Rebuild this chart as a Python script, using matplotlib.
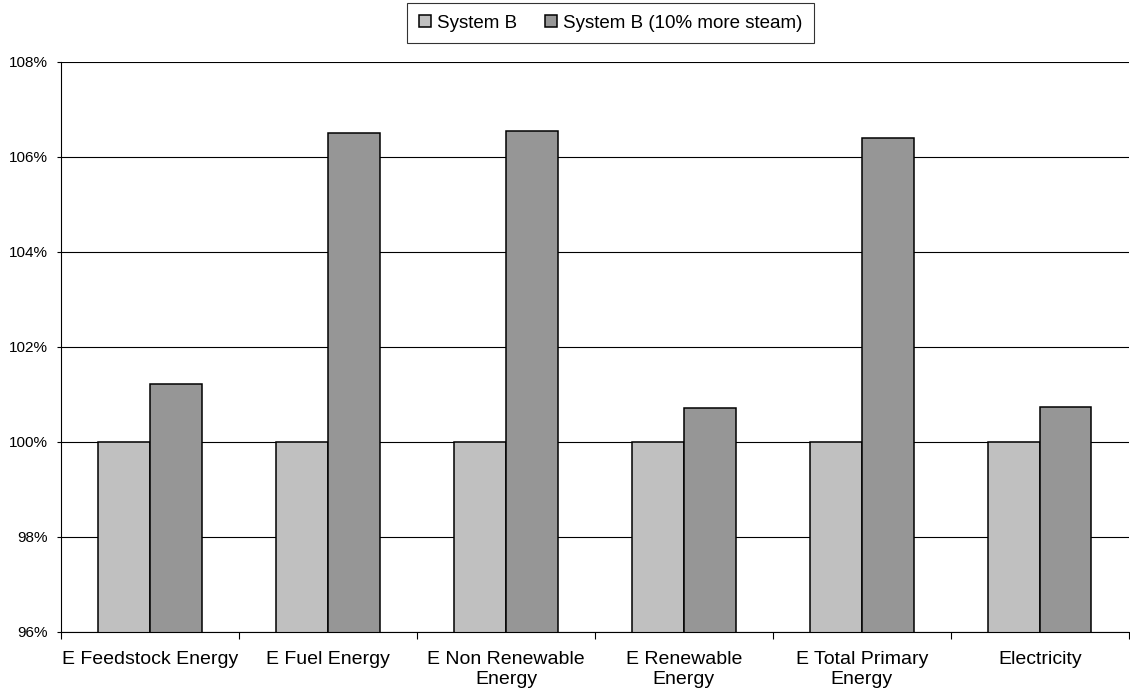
import matplotlib.pyplot as plt
import numpy as np
from matplotlib.ticker import FuncFormatter

plt.rcParams['font.family'] = ['Liberation Sans', 'DejaVu Sans']

categories = ["E Feedstock Energy", "E Fuel Energy", "E Non Renewable\nEnergy",
              "E Renewable\nEnergy", "E Total Primary\nEnergy", "Electricity"]
system_b = [100.0, 100.0, 100.0, 100.0, 100.0, 100.0]
system_b_steam = [101.23, 106.50, 106.54, 100.72, 106.39, 100.73]

fig = plt.figure(figsize=(11.3, 6.97), dpi=100)
ax = fig.add_axes([0.054, 0.0933, 0.945, 0.8178])

x = np.arange(len(categories))
w = 0.29
ax.bar(x - w / 2, system_b, w, bottom=0, color="#c0c0c0", edgecolor="black",
       linewidth=1.1, label="System B", zorder=3)
ax.bar(x + w / 2, system_b_steam, w, bottom=0, color="#969696", edgecolor="black",
       linewidth=1.1, label="System B (10% more steam)", zorder=3)

ax.set_ylim(96, 108)
ax.set_xlim(-0.5, len(categories) - 0.5)
ax.set_yticks(np.arange(96, 109, 2))
ax.yaxis.set_major_formatter(FuncFormatter(lambda v, p: "%d%%" % v))
ax.yaxis.grid(True, color="black", linewidth=0.8, zorder=0)

# labels centred under the groups, tick marks between them
ax.set_xticks(x)
ax.set_xticklabels(categories, fontsize=14)
ax.tick_params(axis="x", length=0, pad=14)
ax.set_xticks(np.arange(-0.5, len(categories)), minor=True)
ax.tick_params(axis="x", which="minor", length=5, width=0.8)
ax.tick_params(axis="y", labelsize=11, length=3, width=0.8, pad=6.5)

for s in ["top", "right"]:
    ax.spines[s].set_visible(False)
for s in ["left", "bottom"]:
    ax.spines[s].set_linewidth(0.8)
    ax.spines[s].set_zorder(4)

leg = fig.legend(loc="upper center", bbox_to_anchor=(0.5403, 0.9957), ncol=2,
                 fontsize=13.5, frameon=True, fancybox=False, handlelength=0.64,
                 handleheight=0.64, handletextpad=0.32, columnspacing=1.5,
                 borderpad=0.62, borderaxespad=0)
leg.get_frame().set_edgecolor("black")
leg.get_frame().set_linewidth(0.8)

fig.savefig("out.png", dpi=100)
